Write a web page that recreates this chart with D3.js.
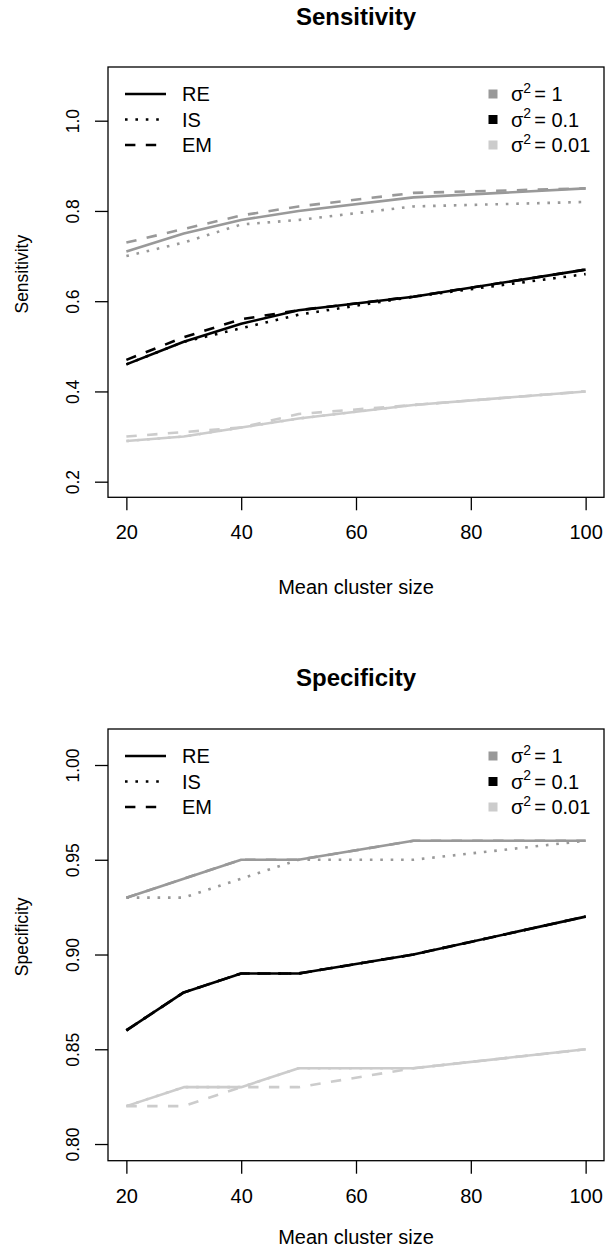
<!DOCTYPE html>
<html>
<head>
<meta charset="utf-8">
<script src="https://cdn.jsdelivr.net/npm/d3@7"></script>
<style>
  html, body { margin: 0; padding: 0; background: #fff; }
  svg { display: block; }
  text { font-family: "Liberation Sans", Arial, Helvetica, sans-serif; fill: #000; }
</style>
</head>
<body>
<svg id="chart" width="606" height="1260"></svg>
<script>
// ---------------- data ----------------
const clusterSizes = [20, 30, 40, 50, 70, 100];
const methods = ["RE", "IS", "EM"];
const sigmaLabels = ["1", "0.1", "0.01"];
const xTicks = [20, 40, 60, 80, 100];
const sensTicks = [0.2, 0.4, 0.6, 0.8, 1.0];
const specTicks = [0.80, 0.85, 0.90, 0.95, 1.00];

// Sensitivity
const sensRE_s1   = [0.71, 0.75, 0.78, 0.80, 0.83, 0.85];
const sensIS_s1   = [0.70, 0.73, 0.77, 0.78, 0.81, 0.82];
const sensEM_s1   = [0.73, 0.76, 0.79, 0.81, 0.84, 0.85];
const sensRE_s01  = [0.46, 0.51, 0.55, 0.58, 0.61, 0.67];
const sensIS_s01  = [0.46, 0.51, 0.54, 0.57, 0.61, 0.66];
const sensEM_s01  = [0.47, 0.52, 0.56, 0.58, 0.61, 0.67];
const sensRE_s001 = [0.29, 0.30, 0.32, 0.34, 0.37, 0.40];
const sensIS_s001 = [0.29, 0.30, 0.32, 0.34, 0.37, 0.40];
const sensEM_s001 = [0.30, 0.31, 0.32, 0.35, 0.37, 0.40];

// Specificity
const specRE_s1   = [0.93, 0.94, 0.95, 0.95, 0.96, 0.96];
const specIS_s1   = [0.93, 0.93, 0.94, 0.95, 0.95, 0.96];
const specEM_s1   = [0.93, 0.94, 0.95, 0.95, 0.96, 0.96];
const specRE_s01  = [0.86, 0.88, 0.89, 0.89, 0.90, 0.92];
const specIS_s01  = [0.86, 0.88, 0.89, 0.89, 0.90, 0.92];
const specEM_s01  = [0.86, 0.88, 0.89, 0.89, 0.90, 0.92];
const specRE_s001 = [0.82, 0.83, 0.83, 0.84, 0.84, 0.85];
const specIS_s001 = [0.82, 0.83, 0.83, 0.84, 0.84, 0.85];
const specEM_s001 = [0.82, 0.82, 0.83, 0.83, 0.84, 0.85];

// ---------------- styles ----------------
const sigmaColors = ["#999999", "#000000", "#cccccc"];
const LW = 2.6;
const dashFor = { RE: null, IS: `${LW} ${LW*3}`, EM: `${LW*4} ${LW*4}` };
const FS = 20;
const FS_Y = 17.5;

const svg = d3.select("#chart");

function panel(cfg) {
  const g = svg.append("g");
  const x = d3.scaleLinear().domain([16.8, 103.2]).range([108, 604]);
  const y = d3.scaleLinear().domain(cfg.yDomain).range([cfg.bottom, cfg.top]);

  const line = d3.line().x((d, i) => x(clusterSizes[i])).y(d => y(d));
  cfg.series.forEach((bySigma, si) => {
    methods.forEach((m, mi) => {
      g.append("path")
        .attr("d", line(bySigma[mi]))
        .attr("fill", "none")
        .attr("stroke", sigmaColors[si])
        .attr("stroke-width", LW)
        .attr("stroke-linejoin", "round")
        .attr("stroke-dasharray", dashFor[m]);
    });
  });

  g.append("rect")
    .attr("x", x.range()[0]).attr("y", cfg.top)
    .attr("width", x.range()[1] - x.range()[0])
    .attr("height", cfg.bottom - cfg.top)
    .attr("fill", "none").attr("stroke", "#000").attr("stroke-width", 1.3);

  const xa = g.append("g").attr("transform", `translate(0,${cfg.bottom})`)
    .call(d3.axisBottom(x).tickValues(xTicks).tickSize(13).tickPadding(15).tickFormat(d3.format("d")));
  xa.select(".domain").remove();
  xa.selectAll("line").attr("stroke", "#000").attr("stroke-width", 1.3);
  xa.selectAll("text").attr("font-size", FS).attr("fill", "#000")
    .style("font-family", '"Liberation Sans", Arial, sans-serif');

  const ya = g.append("g").attr("transform", `translate(${x.range()[0]},0)`)
    .call(d3.axisLeft(y).tickValues(cfg.ticks).tickSize(13).tickFormat(d3.format(cfg.fmt)));
  ya.select(".domain").remove();
  ya.selectAll("line").attr("stroke", "#000").attr("stroke-width", 1.3);
  ya.selectAll("text").remove();
  ya.selectAll(".tick").append("text")
    .attr("transform", "translate(-35,0) rotate(-90)")
    .attr("text-anchor", "middle")
    .attr("dy", "0.35em")
    .attr("font-size", FS_Y)
    .text(d => d3.format(cfg.fmt)(d));

  g.append("text").attr("x", (x.range()[0] + x.range()[1]) / 2).attr("y", cfg.titleY)
    .attr("text-anchor", "middle").attr("font-weight", "bold").attr("font-size", 24)
    .text(cfg.title);
  g.append("text").attr("x", (x.range()[0] + x.range()[1]) / 2).attr("y", cfg.xLabY)
    .attr("text-anchor", "middle").attr("font-size", FS).text("Mean cluster size");
  g.append("text")
    .attr("transform", `translate(22,${(cfg.top + cfg.bottom) / 2 - 8}) rotate(-90)`)
    .attr("text-anchor", "middle").attr("dy", "0.35em").attr("font-size", FS_Y)
    .text(cfg.yLab);

  const rowY = [27, 52.5, 78];
  methods.forEach((m, i) => {
    const yy = cfg.top + rowY[i];
    g.append("line").attr("x1", 125).attr("x2", 166).attr("y1", yy).attr("y2", yy)
      .attr("stroke", "#000").attr("stroke-width", LW)
      .attr("stroke-dasharray", dashFor[m]);
    g.append("text").attr("x", 182).attr("y", yy).attr("dy", "0.35em")
      .attr("font-size", FS).text(m);
  });
  sigmaLabels.forEach((s, i) => {
    const yy = cfg.top + rowY[i];
    g.append("rect").attr("x", 488.5).attr("y", yy - 4.5).attr("width", 9).attr("height", 9)
      .attr("fill", sigmaColors[i]);
    const t = g.append("text").attr("x", 511).attr("y", yy).attr("dy", "0.35em").attr("font-size", FS);
    t.append("tspan").text("σ");
    t.append("tspan").attr("font-size", 14).attr("dy", "-0.6em").text("2");
    t.append("tspan").attr("dy", "0.42em").attr("dx", 3).text("= " + s);
  });
}

panel({
  title: "Sensitivity", yLab: "Sensitivity",
  top: 67, bottom: 497.3, yDomain: [0.1654, 1.119],
  ticks: sensTicks, fmt: ".1f", titleY: 25, xLabY: 594,
  series: [
    [sensRE_s1, sensIS_s1, sensEM_s1],
    [sensRE_s01, sensIS_s01, sensEM_s01],
    [sensRE_s001, sensIS_s001, sensEM_s001]
  ]
});

panel({
  title: "Specificity", yLab: "Specificity",
  top: 729, bottom: 1160.7, yDomain: [0.7912, 1.019],
  ticks: specTicks, fmt: ".2f", titleY: 686, xLabY: 1244,
  series: [
    [specRE_s1, specIS_s1, specEM_s1],
    [specRE_s01, specIS_s01, specEM_s01],
    [specRE_s001, specIS_s001, specEM_s001]
  ]
});
</script>
</body>
</html>
